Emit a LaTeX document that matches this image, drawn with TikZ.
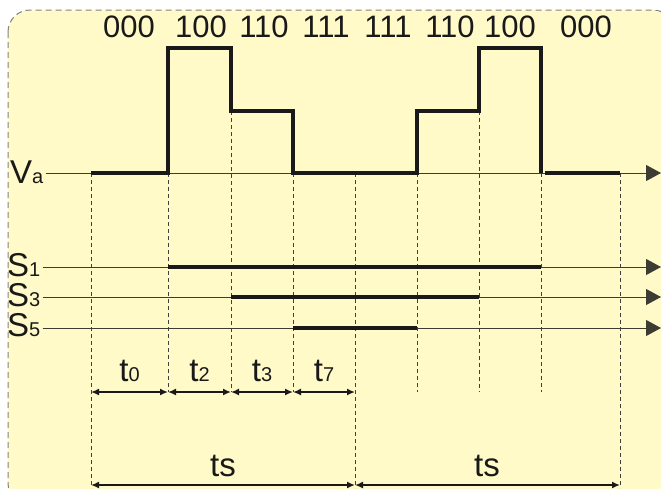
\documentclass[tikz,border=0pt]{standalone}
\usepackage{fontspec}
\setmainfont{Liberation Sans}
\usetikzlibrary{arrows.meta}
\definecolor{bgyellow}{RGB}{255,250,200}
\definecolor{bordergray}{RGB}{130,130,130}
\definecolor{axisgray}{RGB}{60,60,50}
\newcommand{\bigf}{\fontsize{33}{33}\selectfont}
\newcommand{\subf}{\fontsize{20}{20}\selectfont}
\newcommand{\topf}{\fontsize{31}{31}\selectfont}
\begin{document}
\begin{tikzpicture}[x=1pt,y=-1pt,
  frame/.style={fill=bgyellow,draw=bordergray,line width=1pt,dash pattern=on 6pt off 4pt,rounded corners=22pt},
  guide/.style={draw=black!75,line width=0.8pt,dash pattern=on 4pt off 3pt},
  axis/.style={draw=axisgray,line width=1pt,-{Triangle[length=15pt,width=16pt]}},
  wave/.style={draw=black!90,line width=3.5pt,miter limit=4},
  bar/.style={draw=black!90,line width=4pt},
  dim/.style={draw=black!90,line width=2pt,{Latex[length=8pt,width=7pt]}-{Latex[length=8pt,width=7pt]}},
  lbl/.style={inner sep=0pt,anchor=base,text=black!90},
  lbll/.style={inner sep=0pt,anchor=base west,text=black!90}]
\useasboundingbox (0,0) rectangle (661,488);
\path[frame] (8,10) rectangle (675,505);

% guide lines
\foreach \x/\a/\b in {91/173/488,168/173/392,231/111/392,293/173/392,355/173/488,417/173/392,479/111/392,541/173/392,620/173/488}
  \draw[guide] (\x,\a) -- (\x,\b);

% left labels
\node[lbll] (lva) at (10,183) {\bigf V\subf a};
\node[lbll] (ls1) at (7,276) {\bigf S\subf 1};
\node[lbll] (ls3) at (7,306) {\bigf S\subf 3};
\node[lbll] (ls5) at (7,336) {\bigf S\subf 5};

% axis end points
\coordinate (va1) at (661,173);
\coordinate (s11) at (661,267);
\coordinate (s31) at (661,297);
\coordinate (s51) at (661,328);

% axes
\draw[axis] ([xshift=2pt]lva.east |- va1) -- (va1);
\draw[axis] ([xshift=2pt]ls1.east |- s11) -- (s11);
\draw[axis] ([xshift=2pt]ls3.east |- s31) -- (s31);
\draw[axis] ([xshift=2pt]ls5.east |- s51) -- (s51);

% waveform
\draw[wave] (91,173) -- (168,173) -- (168,48) -- (231,48) -- (231,111) -- (293,111) -- (293,173)
  -- (417,173) -- (417,111) -- (479,111) -- (479,48) -- (541,48) -- (541,173);
\draw[wave] (545,173) -- (620,173);

% switch bars
\draw[bar] (168,267) -- (541,267);
\draw[bar] (231,297) -- (479,297);
\draw[bar] (293,328) -- (417,328);

% dimension arrows
\coordinate (d0) at (91,392); \coordinate (d1) at (168,392); \coordinate (d2) at (231,392);
\coordinate (d3) at (293,392); \coordinate (d4) at (355,392);
\draw[dim] (d0) -- (d1);
\draw[dim] (d1) -- (d2);
\draw[dim] (d2) -- (d3);
\draw[dim] (d3) -- (d4);
\coordinate (e0) at (91,485); \coordinate (e1) at (355,485); \coordinate (e2) at (620,485);
\draw[dim] (e0) -- (e1);
\draw[dim] (e1) -- (e2);

% top labels
\foreach \x/\t [count=\i] in {129/000,201/100,264/110,326/111,388/111,450/110,510/100,586/000}
  \node[lbl] (top\i) at (\x,37) {\topf \t};

% interval labels
\node[lbl] (lt0) at (129.5,381) {\bigf t\subf 0};
\node[lbl] (lt2) at (199.5,381) {\bigf t\subf 2};
\node[lbl] (lt3) at (262,381) {\bigf t\subf 3};
\node[lbl] (lt7) at (324,381) {\bigf t\subf 7};
\node[lbl] (lts1) at (223,476) {\bigf ts};
\node[lbl] (lts2) at (487,476) {\bigf ts};
\end{tikzpicture}
\end{document}
